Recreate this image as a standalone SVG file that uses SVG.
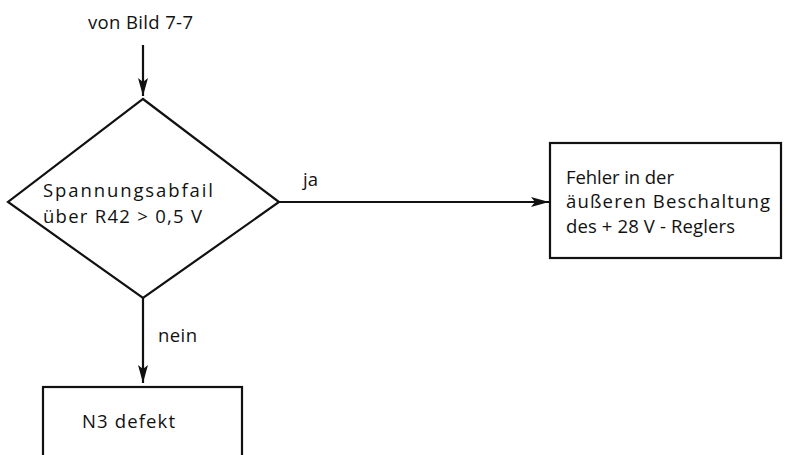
<svg xmlns="http://www.w3.org/2000/svg" width="792" height="455" viewBox="0 0 792 455">
<style>
.s{fill:none;stroke:#111;stroke-width:2.2}
.b{fill:#fff;stroke:#111;stroke-width:2.2}
text{font-family:"Open Sans","Liberation Sans",sans-serif;font-size:18.5px;fill:#111}
</style>
<defs>
<marker id="ah" viewBox="0 0 18 10" refX="18" refY="5" markerWidth="18" markerHeight="10" markerUnits="userSpaceOnUse" orient="auto">
<path d="M0,0 L18,5 L0,10 L4,5 Z" fill="#111"/>
</marker>
</defs>
<rect width="792" height="455" fill="#fff"/>
<g id="connectors">
<line class="s" x1="143" y1="45" x2="143" y2="96" marker-end="url(#ah)"/>
<line class="s" x1="279" y1="202" x2="549" y2="202" marker-end="url(#ah)"/>
<line class="s" x1="143" y1="298" x2="143" y2="383" marker-end="url(#ah)"/>
<text x="303" y="186">ja</text>
<text x="158" y="342" textLength="39" lengthAdjust="spacing">nein</text>
</g>
<g id="start">
<text x="88" y="29" style="font-weight:500" textLength="105" lengthAdjust="spacing">von Bild 7-7</text>
</g>
<g id="decision">
<polygon class="b" points="143,99 279,202 143,298 8,202"/>
<text x="43" y="197" textLength="170" lengthAdjust="spacing">Spannungsabfail</text>
<text x="43" y="223" textLength="159" lengthAdjust="spacing">über R42 &gt; 0,5 V</text>
</g>
<g id="box-fehler">
<rect class="b" x="550" y="143" width="231" height="115"/>
<text x="566" y="184" textLength="108" lengthAdjust="spacing">Fehler in der</text>
<text x="566" y="208" textLength="204" lengthAdjust="spacing">äußeren Beschaltung</text>
<text x="566" y="233" textLength="169" lengthAdjust="spacing">des + 28 V - Reglers</text>
</g>
<g id="box-n3">
<rect class="b" x="43" y="387" width="199" height="100"/>
<text x="82" y="428" textLength="93" lengthAdjust="spacing">N3 defekt</text>
</g>
</svg>
